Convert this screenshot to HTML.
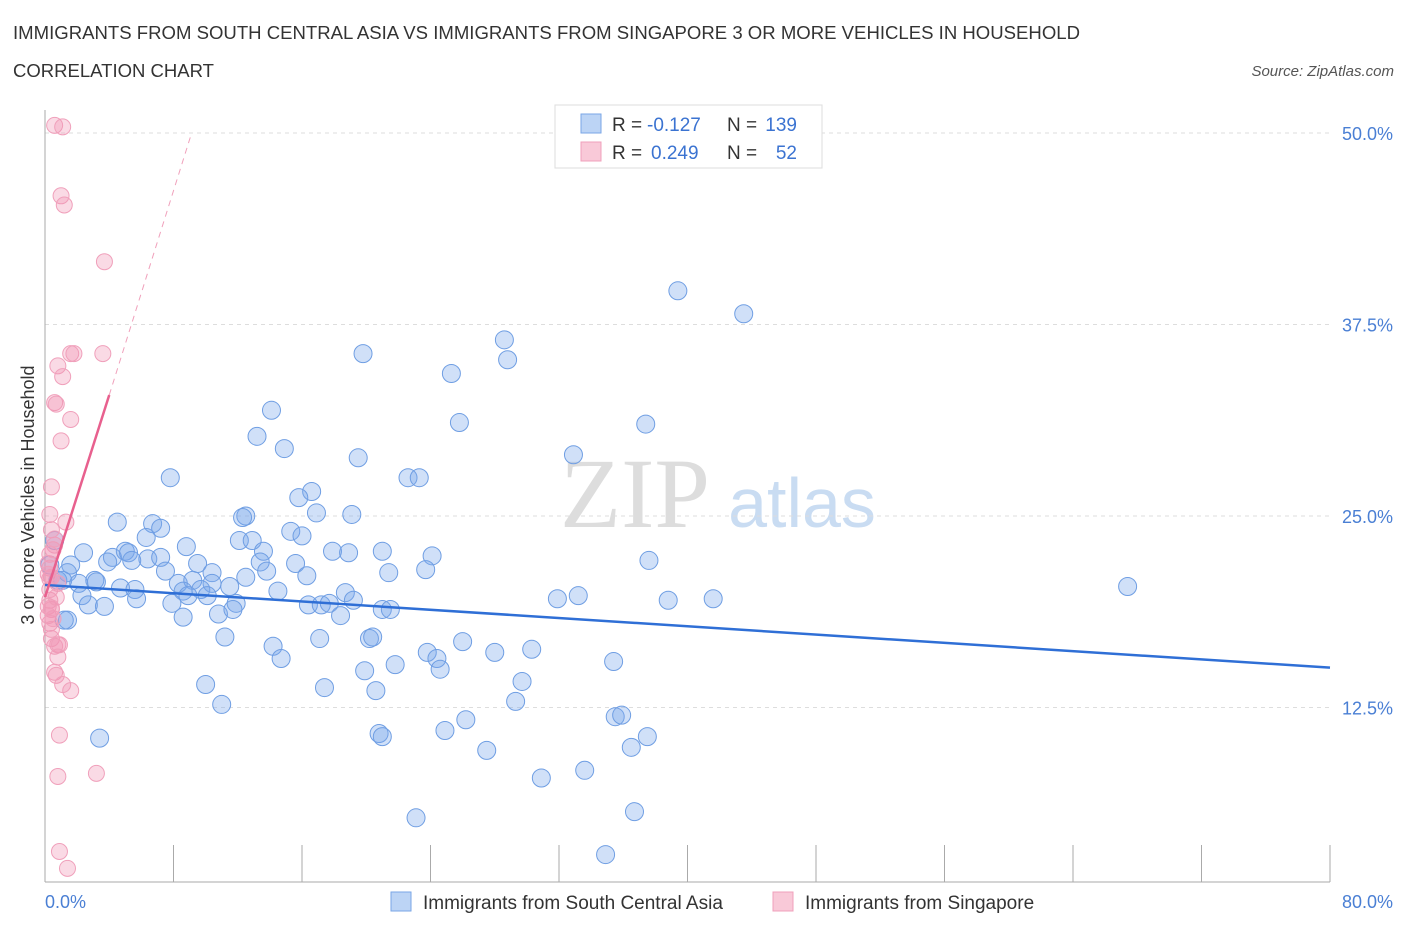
<!DOCTYPE html>
<html><head><meta charset="utf-8"><style>
body{margin:0;background:#fff;font-family:"Liberation Sans",sans-serif;}
svg{display:block}
</style></head><body>
<svg id="chart" width="1406" height="930">
<text x="13" y="39" font-size="18" fill="#333" textLength="1067" lengthAdjust="spacingAndGlyphs">IMMIGRANTS FROM SOUTH CENTRAL ASIA VS IMMIGRANTS FROM SINGAPORE 3 OR MORE VEHICLES IN HOUSEHOLD</text>
<text x="13" y="77" font-size="18" fill="#333" textLength="201" lengthAdjust="spacingAndGlyphs">CORRELATION CHART</text>
<text x="1394" y="76" font-size="15" fill="#555" font-style="italic" text-anchor="end">Source: ZipAtlas.com</text>
<text x="635" y="527" font-size="100" fill="#ddd" font-family="Liberation Serif,serif" text-anchor="middle">ZIP</text>
<text x="802" y="527" font-size="70" fill="#c9dcf2" text-anchor="middle">atlas</text>
<g id="grid"></g>
<g id="pts"></g>
<g id="trend"></g>
<text transform="translate(34,495) rotate(-90)" font-size="18" fill="#333" text-anchor="middle">3 or more Vehicles in Household</text>
<text x="45" y="908" font-size="18" fill="#4a7fd4">0.0%</text>
<text x="1393" y="908" font-size="18" fill="#4a7fd4" text-anchor="end">80.0%</text>
<g>
<rect x="555" y="105" width="267" height="63" fill="#fff" stroke="#ddd"/>
<rect x="581" y="114" width="20" height="19" fill="#bcd4f5" stroke="#7aa6e6"/>
<rect x="581" y="142" width="20" height="19" fill="#f9c9d8" stroke="#f0a0bb"/>
<text x="612" y="131" font-size="19" fill="#333">R =</text>
<text x="647" y="131" font-size="19" fill="#3b73d1">-0.127</text>
<text x="727" y="131" font-size="19" fill="#333">N =</text>
<text x="797" y="131" font-size="19" fill="#3b73d1" text-anchor="end">139</text>
<text x="612" y="159" font-size="19" fill="#333">R =</text>
<text x="651" y="159" font-size="19" fill="#3b73d1">0.249</text>
<text x="727" y="159" font-size="19" fill="#333">N =</text>
<text x="797" y="159" font-size="19" fill="#3b73d1" text-anchor="end">52</text>
</g>
<g>
<rect x="391" y="892" width="20" height="19" fill="#bcd4f5" stroke="#7aa6e6"/>
<text x="423" y="909" font-size="19" fill="#333">Immigrants from South Central Asia</text>
<rect x="773" y="892" width="20" height="19" fill="#f9c9d8" stroke="#f0a0bb"/>
<text x="805" y="909" font-size="19" fill="#333">Immigrants from Singapore</text>
</g>
</svg>
<script>
const yTicks=[12.5,25.0,37.5,50.0];
const xTicks=[0,8,16,24,32,40,48,56,64,72,80];
const blueX=[39.4,43.5,28.6,28.8,19.8,25.3,14.1,25.8,37.4,13.2,14.9,19.5,32.9,7.8,22.6,23.3,16.6,15.8,4.5,6.7,7.2,12.5,12.3,16.9,19.1,15.3,16.0,6.3,12.1,8.8,12.9,2.4,4.2,5.0,5.2,6.4,3.9,5.4,7.2,13.6,17.9,18.9,21.0,24.1,13.4,9.5,15.6,37.6,1.6,0.3,1.4,7.5,10.4,13.8,21.4,23.7,12.5,16.3,0.8,1.1,2.1,3.1,3.2,8.3,9.2,10.4,11.5,4.7,5.6,8.6,9.7,14.5,18.7,67.4,2.3,5.7,8.9,10.1,31.9,33.2,38.8,41.6,7.9,11.9,16.4,17.2,17.7,19.2,2.7,3.7,10.8,11.7,21.0,21.5,18.4,8.6,1.4,11.2,17.1,20.2,20.4,26.0,14.2,14.7,23.8,24.4,24.6,28.0,30.3,21.8,19.9,35.4,10.0,17.4,20.6,29.7,29.3,11.0,35.5,35.9,26.2,20.8,21.0,24.9,37.5,3.4,36.5,27.5,33.6,30.9,23.1,36.7,34.9,0.6,1.2];
const blueY=[39.7,38.2,36.5,35.2,35.6,34.3,31.9,31.1,31.0,30.2,29.4,28.8,29.0,27.5,27.5,27.5,26.6,26.2,24.6,24.5,24.2,25.0,24.9,25.2,25.1,24.0,23.7,23.6,23.4,23.0,23.4,22.6,22.3,22.7,22.6,22.2,22.0,22.1,22.3,22.7,22.7,22.6,22.7,22.4,22.0,21.9,21.9,22.1,21.8,21.8,21.3,21.4,21.3,21.4,21.3,21.5,21.0,21.1,20.8,20.8,20.6,20.8,20.7,20.6,20.8,20.6,20.4,20.3,20.2,20.1,20.2,20.1,20.0,20.4,19.8,19.6,19.8,19.8,19.6,19.8,19.5,19.6,19.3,19.3,19.2,19.2,19.3,19.5,19.2,19.1,18.6,18.9,18.9,18.9,18.5,18.4,18.2,17.1,17.0,17.0,17.1,16.8,16.5,15.7,16.1,15.7,15.0,16.1,16.3,15.3,14.9,15.5,14.0,13.8,13.6,14.2,12.9,12.7,11.9,12.0,11.7,10.8,10.6,11.0,10.6,10.5,9.9,9.7,8.4,7.9,5.3,5.7,2.9,23.4,18.2];
const pinkX=[0.6,1.1,1.0,1.2,3.7,1.6,1.8,3.6,0.8,1.1,0.6,0.7,1.6,1.0,0.4,0.3,1.3,0.4,0.6,0.3,0.3,0.4,0.8,0.3,0.2,0.4,0.3,0.4,0.8,0.6,0.9,0.8,0.6,0.7,1.1,1.6,0.9,0.8,3.2,0.9,1.4,0.2,0.5,0.3,0.7,0.2,0.4,0.6,0.3,0.5,0.2,0.4];
const pinkY=[50.5,50.4,45.9,45.3,41.6,35.6,35.6,35.6,34.8,34.1,32.4,32.3,31.3,29.9,26.9,25.1,24.6,24.1,23.1,22.5,21.6,21.0,20.6,19.5,19.1,18.9,18.0,17.0,16.6,16.5,16.6,15.8,14.8,14.6,14.0,13.6,10.7,8.0,8.2,3.1,2.0,21.9,22.8,20.2,19.7,18.5,17.6,23.5,20.9,18.3,21.2,19.0];
const bigBlue=[135,136];
const blueTrend=[[0,20.5],[80,15.1]];
const pinkTrend=[[0,19.7],[4.0,32.9]];
const pinkDash=[[4.0,32.9],[9.1,49.9]];
const X0=45,X1=1330,Y0=899,PX_PER=191.5/12.5;
const sx=v=>X0+v*(X1-X0)/80, sy=v=>Y0-v*PX_PER;
const NS='http://www.w3.org/2000/svg';
function mk(tag,attrs,parent){const e=document.createElementNS(NS,tag);for(const k in attrs)e.setAttribute(k,attrs[k]);parent.appendChild(e);return e;}
const grid=document.getElementById('grid');
yTicks.forEach(t=>{
 const l=mk('line',{x1:45,x2:1330,y1:sy(t),y2:sy(t),stroke:'#ddd','stroke-dasharray':'4,4'},grid);
 
 
 const tx=mk('text',{x:1393,y:sy(t)+7,'font-size':18,fill:'#4a7fd4','text-anchor':'end'},grid);
 tx.textContent=t.toFixed(1)+'%';
 
 
});
const ax=mk('line',{x1:45,x2:1330,y1:882,y2:882,stroke:'#aaa'},grid);


const ay=mk('line',{x1:45,x2:45,y1:110,y2:882,stroke:'#aaa'},grid);


xTicks.forEach(t=>{
 const l=mk('line',{x1:sx(t),x2:sx(t),y1:845,y2:882,stroke:'#aaa'},grid);
 
 
});
const pts=document.getElementById('pts');
blueX.forEach((v,i)=>{
 const big=bigBlue.includes(i);
 const c=mk('circle',{cx:sx(v),cy:sy(blueY[i]),r:big?12:9,fill:'rgba(120,165,235,0.35)',stroke:'#6f9ee3','stroke-width':1},pts);
 
 
});
pinkX.forEach((v,i)=>{
 const c=mk('circle',{cx:sx(v),cy:sy(pinkY[i]),r:8,fill:'rgba(242,150,180,0.35)',stroke:'#f0a0bb','stroke-width':1},pts);
 
 
});
const tr=document.getElementById('trend');
const b=mk('line',{x1:sx(blueTrend[0][0]),y1:sy(blueTrend[0][1]),x2:sx(blueTrend[1][0]),y2:sy(blueTrend[1][1]),stroke:'#2f6fd6','stroke-width':2.5},tr);


const p=mk('line',{x1:sx(pinkTrend[0][0]),y1:sy(pinkTrend[0][1]),x2:sx(pinkTrend[1][0]),y2:sy(pinkTrend[1][1]),stroke:'#e8608e','stroke-width':2.5},tr);


const pd=mk('line',{x1:sx(pinkDash[0][0]),y1:sy(pinkDash[0][1]),x2:sx(pinkDash[1][0]),y2:sy(pinkDash[1][1]),stroke:'#f0a0bb','stroke-width':1,'stroke-dasharray':'6,5'},tr);


</script>
</body></html>
